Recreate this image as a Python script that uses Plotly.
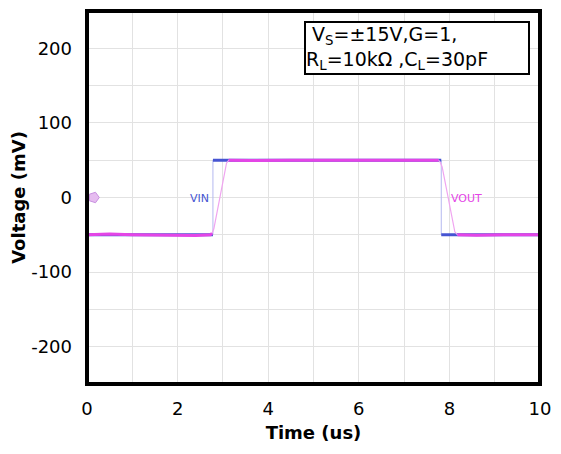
import plotly.graph_objects as go

# Time axis (us) and measured traces (mV)
t_vin = [0.0, 1.0, 2.0, 2.78, 2.78, 4.0, 6.0, 7.82, 7.82, 9.0, 10.0]
v_vin = [-50, -50, -50, -50, 50, 50, 50, 50, -50, -50, -50]

t_vout = [0.0, 0.5, 1.0, 1.5, 2.0, 2.4, 2.72, 2.76, 2.80, 3.08, 3.13, 3.6, 4.5,
          5.5, 6.5, 7.2, 7.76, 7.80, 7.84, 8.12, 8.18, 8.6, 9.2, 10.0]
v_vout = [-50, -49, -50, -50.5, -50, -51, -50, -48, -42, 46, 50, 49.5, 50,
          50, 49.5, 50, 50, 47, 41, -46, -50, -50.5, -50, -50]

x_ticks = [0, 2, 4, 6, 8, 10]
y_ticks = [-200, -100, 0, 100, 200]

VIN_COLOR = "#4654d2"
VOUT_COLOR = "#e445e6"


def flat_segments(t, v, thresh=3.0):
    """Keep only the settled (non-slewing) parts of a trace, gaps elsewhere."""
    ft, fv = [], []
    last = None
    for i in range(len(t) - 1):
        if abs(v[i + 1] - v[i]) < thresh and t[i + 1] != t[i]:
            if last != i:
                ft += [None, t[i]]; fv += [None, v[i]]
            ft.append(t[i + 1]); fv.append(v[i + 1])
            last = i + 1
    return ft, fv


fig = go.Figure()

# Input: thin slewing edges, then thick settled levels
fig.add_trace(go.Scatter(x=t_vin, y=v_vin, mode="lines",
                         line=dict(color="#b4b8f0", width=1), hoverinfo="skip"))
fvt, fvv = flat_segments(t_vin, v_vin)
fig.add_trace(go.Scatter(x=fvt, y=fvv, mode="lines",
                         line=dict(color=VIN_COLOR, width=3), hoverinfo="skip"))

# Output: thin slewing edges, then thick settled levels
fig.add_trace(go.Scatter(x=t_vout, y=v_vout, mode="lines",
                         line=dict(color="#f0a4f0", width=1.2), hoverinfo="skip"))
fot, fov = flat_segments(t_vout, v_vout)
fig.add_trace(go.Scatter(x=fot, y=fov, mode="lines",
                         line=dict(color=VOUT_COLOR, width=3), hoverinfo="skip"))

# Channel ground reference marker
fig.add_trace(go.Scatter(x=[0.15], y=[0], mode="markers",
                         marker=dict(symbol="pentagon", size=11, color="#e6bcf0",
                                     line=dict(color="#c890e0", width=1),
                                     angle=90),
                         hoverinfo="skip"))

fig.add_annotation(x=2.49, y=-2, text="VIN", showarrow=False,
                   font=dict(family="DejaVu Sans", size=11, color=VIN_COLOR))
fig.add_annotation(x=8.37, y=-2, text="VOUT", showarrow=False,
                   font=dict(family="DejaVu Sans", size=11, color=VOUT_COLOR))

# Test condition box
fig.add_annotation(xref="paper", yref="paper", x=0.479, y=0.973,
                   xanchor="left", yanchor="top", align="left", showarrow=False,
                   width=222,
                   text=" V<sub>S</sub>=±15V,G=1,<br>R<sub>L</sub>=10kΩ ,C<sub>L</sub>=30pF",
                   font=dict(family="DejaVu Sans", size=19, color="black"),
                   bgcolor="white", bordercolor="black", borderwidth=2, borderpad=0)

# Heavy frame around the plot area
fig.add_shape(type="rect", xref="paper", yref="paper", x0=0, y0=0, x1=1, y1=1,
              line=dict(color="black", width=4), layer="above")

axis_font = dict(family="DejaVu Sans", size=18, color="black")
title_font = dict(family="DejaVu Sans", size=18, color="black")

fig.update_layout(
    width=561, height=454,
    margin=dict(l=87, r=21, t=11, b=70),
    paper_bgcolor="white", plot_bgcolor="white",
    showlegend=False,
    xaxis=dict(range=[0, 10], tickvals=x_ticks, ticktext=[str(v) for v in x_ticks],
               showgrid=True, gridcolor="#e2e2e2", gridwidth=1,
               minor=dict(dtick=1, showgrid=True, gridcolor="#e2e2e2"),
               zeroline=False, showline=False, ticks="",
               tickfont=axis_font, ticklabelstandoff=12,
               title=dict(text="<b>Time (us)</b>", font=title_font, standoff=8)),
    yaxis=dict(range=[-250, 250], tickvals=y_ticks, ticktext=[str(v) for v in y_ticks],
               showgrid=True, gridcolor="#e2e2e2", gridwidth=1,
               minor=dict(dtick=50, showgrid=True, gridcolor="#e2e2e2"),
               zeroline=False, showline=False, ticks="",
               tickfont=axis_font, ticklabelstandoff=14,
               title=dict(text="<b>Voltage (mV)</b>", font=title_font, standoff=0)),
)

fig.write_html("out.html")
